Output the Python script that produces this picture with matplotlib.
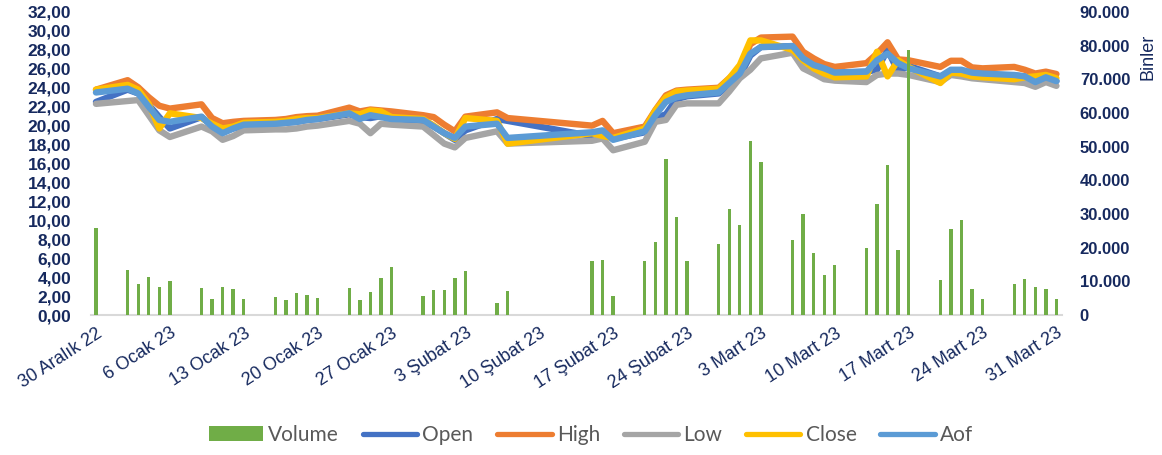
import matplotlib
matplotlib.use("Agg")
import matplotlib.pyplot as plt
import matplotlib.ticker as mticker
import numpy as np
import pandas as pd

# trading days (market closed 8-14 Feb)
dates = [
    "2022-12-30",
    "2023-01-02", "2023-01-03", "2023-01-04", "2023-01-05", "2023-01-06",
    "2023-01-09", "2023-01-10", "2023-01-11", "2023-01-12", "2023-01-13",
    "2023-01-16", "2023-01-17", "2023-01-18", "2023-01-19", "2023-01-20",
    "2023-01-23", "2023-01-24", "2023-01-25", "2023-01-26", "2023-01-27",
    "2023-01-30", "2023-01-31", "2023-02-01", "2023-02-02", "2023-02-03",
    "2023-02-06", "2023-02-07",
    "2023-02-15", "2023-02-16", "2023-02-17",
    "2023-02-20", "2023-02-21", "2023-02-22", "2023-02-23", "2023-02-24",
    "2023-02-27", "2023-02-28", "2023-03-01", "2023-03-02", "2023-03-03",
    "2023-03-06", "2023-03-07", "2023-03-08", "2023-03-09", "2023-03-10",
    "2023-03-13", "2023-03-14", "2023-03-15", "2023-03-16", "2023-03-17",
    "2023-03-20", "2023-03-21", "2023-03-22", "2023-03-23", "2023-03-24",
    "2023-03-27", "2023-03-28", "2023-03-29", "2023-03-30", "2023-03-31",
]

# volume in thousands (Binler)
volume = [
    25900,
    13300, 9200, 11300, 8400, 10200,
    7900, 4700, 8300, 7700, 4700,
    5300, 4500, 6400, 5800, 5100,
    8000, 4500, 6900, 11000, 14300,
    5600, 7400, 7400, 11000, 13100,
    3700, 7100,
    15900, 16300, 5600,
    16100, 21600, 46400, 29000, 15900,
    21000, 31400, 26700, 51700, 45400,
    22300, 29900, 18400, 12000, 14900,
    20000, 33000, 44500, 19300, 78800,
    10300, 25500, 28200, 7800, 4800,
    9100, 10600, 8300, 7600, 4700,
]

open_ = [
    22.5,
    23.8, 23.4, 22.2, 20.9, 19.7,
    20.9, 20.0, 19.3, 19.7, 20.0,
    20.2, 20.3, 20.4, 20.6, 20.7,
    21.2, 20.9, 20.8, 21.0, 20.7,
    20.5, 19.9, 19.2, 18.5, 19.5,
    20.7, 20.5,
    18.9, 19.2, 18.6,
    19.3, 20.8, 21.2, 22.8, 23.1,
    23.4, 24.3, 25.2, 27.4, 28.3,
    28.4, 27.0, 26.4, 26.0, 25.6,
    25.7, 25.9, 28.0, 25.7, 26.3,
    25.2, 25.6, 25.8, 25.5, 25.4,
    25.3, 25.2, 24.7, 25.0, 24.7,
]

high = [
    23.8,
    24.8, 24.05, 23.0, 22.1, 21.8,
    22.25, 20.8, 20.25, 20.4, 20.5,
    20.6, 20.7, 20.9, 21.0, 21.05,
    21.9, 21.5, 21.7, 21.6, 21.5,
    21.1, 20.9, 20.1, 19.4, 20.95,
    21.4, 20.8,
    20.0, 20.5, 19.2,
    19.9, 21.65, 23.2, 23.7, 23.8,
    24.0, 25.0, 26.05, 28.6, 29.3,
    29.4, 27.8, 27.1, 26.5, 26.2,
    26.6, 27.6, 28.8, 27.0, 26.9,
    26.2, 26.85, 26.85, 26.15, 26.05,
    26.2, 25.9, 25.5, 25.7, 25.45,
]

low = [
    22.3,
    22.6, 22.7, 21.1, 19.5, 18.8,
    19.9, 19.4, 18.5, 18.9, 19.5,
    19.6, 19.6, 19.7, 19.9, 20.0,
    20.5, 20.2, 19.2, 20.2, 20.1,
    19.9, 19.0, 18.1, 17.7, 18.7,
    19.4, 18.1,
    18.4, 18.65, 17.4,
    18.3, 20.4, 20.6, 22.2, 22.35,
    22.35, 23.6, 25.0, 25.9, 27.1,
    27.7, 26.05, 25.5, 24.9, 24.75,
    24.6, 25.35, 25.5, 25.5, 25.35,
    24.6, 25.35, 25.2, 25.0, 24.9,
    24.6, 24.5, 24.1, 24.6, 24.2,
]

close = [
    23.8,
    24.3, 23.8, 22.3, 19.7, 21.3,
    20.8, 20.2, 19.7, 19.9, 20.3,
    20.4, 20.5, 20.7, 20.8, 20.8,
    21.3, 21.2, 21.6, 21.5, 20.9,
    20.7, 20.0, 19.2, 18.6, 20.8,
    20.5, 18.1,
    19.2, 18.9, 18.7,
    19.7, 21.6, 23.0, 23.6, 23.7,
    23.9, 25.0, 26.4, 29.0, 29.0,
    28.0, 26.9, 26.05, 25.5, 25.1,
    25.2, 27.8, 25.2, 26.9, 26.2,
    24.5, 25.6, 25.5, 25.2, 25.1,
    24.9, 25.1, 25.2, 25.35, 25.0,
]

aof = [
    23.5,
    23.9, 23.4, 22.0, 20.6, 20.4,
    20.95, 19.9, 19.2, 19.7, 20.1,
    20.2, 20.3, 20.4, 20.6, 20.7,
    21.3, 20.7, 21.1, 20.9, 20.7,
    20.6, 19.9, 19.2, 18.7, 19.9,
    20.2, 18.7,
    19.3, 19.5, 18.5,
    19.4, 21.1, 22.5, 23.0, 23.2,
    23.5, 24.5, 25.5, 27.6, 28.3,
    28.4, 27.1, 26.4, 26.05, 25.6,
    25.7, 26.9, 27.6, 26.6, 26.05,
    25.2, 25.9, 25.9, 25.6, 25.5,
    25.35, 25.2, 24.6, 25.1, 24.7,
]

tick_dates = ["2022-12-30", "2023-01-06", "2023-01-13", "2023-01-20", "2023-01-27",
              "2023-02-03", "2023-02-10", "2023-02-17", "2023-02-24", "2023-03-03",
              "2023-03-10", "2023-03-17", "2023-03-24", "2023-03-31"]
tick_labels = ["30 Aralık 22", "6 Ocak 23", "13 Ocak 23", "20 Ocak 23", "27 Ocak 23",
               "3 Şubat 23", "10 Şubat 23", "17 Şubat 23", "24 Şubat 23", "3 Mart 23",
               "10 Mart 23", "17 Mart 23", "24 Mart 23", "31 Mart 23"]

navy = "#16295E"
plt.rcParams['font.family'] = ['Liberation Sans', 'DejaVu Sans']

x = pd.to_datetime(dates)
fig = plt.figure(figsize=(11.62, 4.55), dpi=100)
ax = fig.add_axes([90.7 / 1162, 1 - 315 / 455, 971 / 1162, 303 / 455])
ax2 = ax.twinx()

series = [("Open", open_, "#4472C4"), ("High", high, "#ED7D31"), ("Low", low, "#A5A5A5"),
          ("Close", close, "#FFC000"), ("Aof", aof, "#5B9BD5")]
handles = []
for name, vals, col in series:
    ln, = ax.plot(x, vals, color=col, lw=4.6, solid_joinstyle='round',
                  solid_capstyle='round', label=name)
    handles.append(ln)

# volume bars sit on the secondary axis, drawn over the price lines
bars = ax2.bar(x, volume, width=0.32, color="#70AD47", label="Volume")

ax.set_xlim(pd.Timestamp("2022-12-29 12:00"), pd.Timestamp("2023-03-31 12:00"))
ax.set_ylim(0, 32)
ax2.set_ylim(0, 90000)
ax.set_yticks(np.arange(0, 33, 2))
ax2.set_yticks(np.arange(0, 90001, 10000))
ax.yaxis.set_major_formatter(mticker.FuncFormatter(lambda v, p: f"{v:.2f}".replace(".", ",")))
ax2.yaxis.set_major_formatter(mticker.FuncFormatter(lambda v, p: f"{int(v):,}".replace(",", ".")))

ax.set_xticks(pd.to_datetime(tick_dates))
ax.set_xticklabels(tick_labels, rotation=33, ha='right', rotation_mode='anchor',
                   fontsize=13, color=navy)
ax.tick_params(axis='x', length=0, pad=7)
ax.tick_params(axis='y', length=0, pad=14, labelsize=12.5, labelcolor=navy)
ax2.tick_params(axis='y', length=0, pad=13, labelsize=12, labelcolor=navy)
for lab in ax.get_yticklabels() + ax2.get_yticklabels():
    lab.set_fontweight('bold')

for sp in ["top", "left", "right"]:
    ax.spines[sp].set_visible(False)
    ax2.spines[sp].set_visible(False)
ax2.spines["bottom"].set_visible(False)
ax.spines["bottom"].set_color("#D9D9D9")
ax.spines["bottom"].set_linewidth(1.5)

fig.text(1148 / 1162, 1 - 57 / 455, "Binler", rotation=90, ha='center', va='center',
         fontsize=13, color=navy)

leg = fig.legend([bars] + handles, ["Volume", "Open", "High", "Low", "Close", "Aof"],
                 loc='center', bbox_to_anchor=(591 / 1162, 1 - 435 / 455), ncol=6,
                 frameon=False, handlelength=2.6, handletextpad=0.25, columnspacing=1.15,
                 prop={'family': ['Lato', 'DejaVu Sans'], 'size': 15})
for t in leg.get_texts():
    t.set_color("#595959")
for ln in leg.get_lines():
    ln.set_linewidth(3.8)

fig.savefig("out.png", dpi=100)
